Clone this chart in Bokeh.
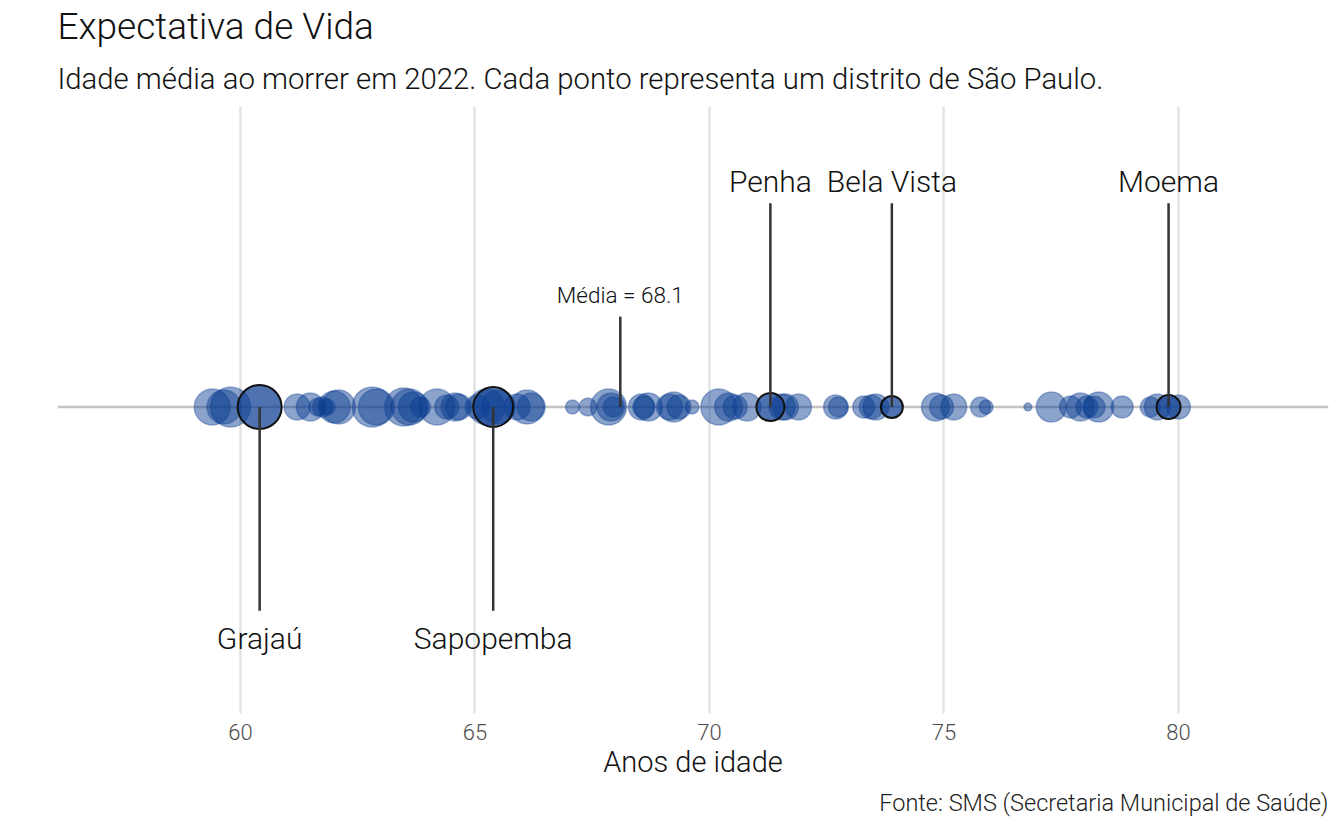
from bokeh.plotting import figure
from bokeh.models import Range1d, Span, Title, FixedTicker, ColumnDataSource
from bokeh.core.properties import value
from bokeh.embed import file_html
from bokeh.resources import INLINE
import numpy as np

# ---- data ----
expectativa = [59.40, 59.65, 59.79, 61.21, 61.49, 61.65, 61.75, 61.85, 62.00, 62.09,
               62.81, 62.90, 63.48, 63.60, 63.69, 63.84, 64.19, 64.40, 64.58, 64.65,
               65.05, 65.25, 65.50, 65.90, 66.11, 66.20, 67.08, 67.41, 67.85, 67.90,
               67.95, 68.55, 68.60, 68.70, 69.15, 69.24, 69.35, 69.63, 70.20, 70.41,
               70.55, 70.80, 71.55, 71.62, 71.90, 72.69, 72.75, 73.29, 73.45, 73.55,
               74.82, 74.95, 75.21, 75.78, 75.90, 76.79, 77.29, 77.70, 77.91, 78.05,
               78.20, 78.30, 78.80, 79.40, 79.55, 80.00]
populacao = [254, 227, 314, 133, 154, 63, 79, 50, 201, 227,
             314, 254, 283, 254, 177, 79, 254, 113, 154, 133,
             113, 254, 227, 133, 227, 154, 38, 63, 254, 154,
             79, 133, 95, 154, 133, 177, 113, 38, 254, 154,
             113, 154, 133, 133, 133, 113, 79, 95, 113, 133,
             154, 113, 133, 79, 38, 12, 177, 95, 154, 95,
             95, 177, 95, 79, 133, 113]

destaque_nome = ["Grajaú", "Sapopemba", "Penha", "Bela Vista", "Moema"]
destaque_idade = [60.41, 65.39, 71.30, 73.89, 79.79]
destaque_pop = [380, 314, 154, 95, 113]
destaque_lado = [-1, -1, 1, 1, 1]

media = 68.1

def tamanho(pop):
    return 44.0 * np.sqrt(np.asarray(pop, dtype=float) / 380.0)

FONT = "Roboto Light, Roboto"
BLUE = "#0B3D91"

p = figure(width=1336, height=822, x_range=Range1d(56.1, 83.2),
           y_range=Range1d(-1.027, 1.007), output_backend="svg",
           toolbar_location=None, title=None,
           min_border_left=57, min_border_right=8, min_border_top=10)
p.outline_line_color = None
p.background_fill_color = "white"
p.border_fill_color = "white"

# axes / grid
p.yaxis.visible = False
p.ygrid.grid_line_color = None
p.xaxis.ticker = FixedTicker(ticks=[60, 65, 70, 75, 80])
p.xgrid.grid_line_color = "#e3e3e3"
p.xgrid.grid_line_width = 2.5
p.xaxis.axis_line_color = None
p.xaxis.major_tick_line_color = None
p.xaxis.minor_tick_line_color = None
p.xaxis.major_label_text_font = FONT
p.xaxis.major_label_text_font_size = "22px"
p.xaxis.major_label_text_color = "#4d4d4d"
p.xaxis.major_label_standoff = 4
p.xaxis.axis_label = "Anos de idade"
p.xaxis.axis_label_text_font = FONT
p.xaxis.axis_label_text_font_size = "29px"
p.xaxis.axis_label_text_font_style = "normal"
p.xaxis.axis_label_text_color = "#111111"
p.xaxis.axis_label_standoff = 2

p.add_layout(Span(location=0, dimension="width", line_color="#c4c4c4",
                  line_width=2.5, level="underlay"))

# bubbles
src = ColumnDataSource(dict(x=expectativa, y=[0] * len(expectativa),
                            s=tamanho(populacao)))
p.scatter("x", "y", size="s", source=src, fill_color=BLUE, fill_alpha=0.47,
          line_color=BLUE, line_alpha=0.35, line_width=1.5)

hsrc = ColumnDataSource(dict(x=destaque_idade, y=[0] * len(destaque_idade),
                             s=tamanho(destaque_pop), nome=destaque_nome,
                             y1=[0.683 * d for d in destaque_lado],
                             yt=[0.757 if d > 0 else -0.775 for d in destaque_lado]))
p.scatter("x", "y", size="s", source=hsrc, fill_color=BLUE, fill_alpha=0.72,
          line_color="#111111", line_width=2)

# connector lines
p.segment(x0="x", y0=0, x1="x", y1="y1", source=hsrc, line_color="#333333",
          line_width=2.5)
p.text(x="x", y="yt", text="nome", source=hsrc, text_align="center",
       text_baseline="middle", text_font=value(FONT), text_font_size="30px",
       text_color="#111111")

# mean marker
p.segment(x0=[media], y0=[0], x1=[media], y1=[0.303], line_color="#333333",
          line_width=2.5)
p.text(x=[media], y=[0.377], text=[f"Média = {media}"], text_align="center",
       text_baseline="middle", text_font=value(FONT), text_font_size="22.5px",
       text_color="#111111")

# titles
p.add_layout(Title(text="Idade média ao morrer em 2022. Cada ponto representa um distrito de São Paulo.",
                   text_font=FONT, text_font_size="29.3px", text_font_style="normal",
                   text_color="#111111", align="left", standoff=21), "above")
p.add_layout(Title(text="Expectativa de Vida", text_font=FONT, text_font_size="37px",
                   text_font_style="normal", text_color="#111111", align="left",
                   standoff=4), "above")
p.add_layout(Title(text="Fonte: SMS (Secretaria Municipal de Saúde)", text_font=FONT,
                   text_font_size="23.5px", text_font_style="normal",
                   text_color="#222222", align="right", standoff=11), "below")

open("out.html", "w").write(file_html(p, INLINE))
